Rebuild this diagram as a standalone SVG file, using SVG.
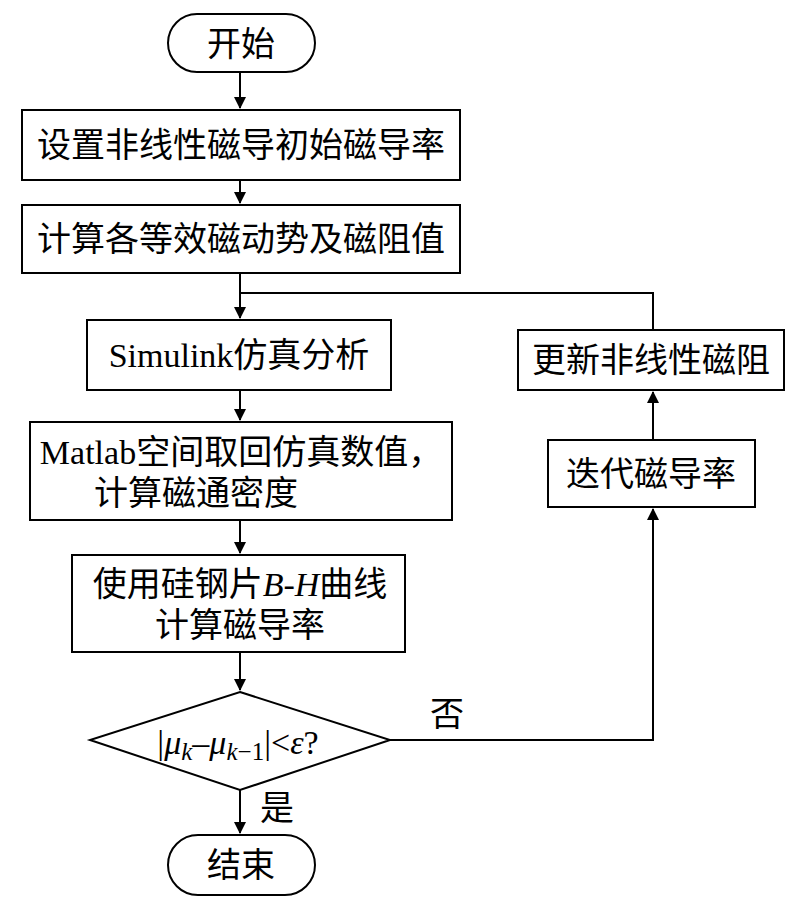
<svg xmlns="http://www.w3.org/2000/svg" width="785" height="902" viewBox="0 0 785 902">
<style>
.b{fill:#fff;stroke:#000;stroke-width:2}
.t{font-family:"Liberation Serif","Noto Sans CJK SC",serif;font-size:34px;text-anchor:middle;fill:#000}
.l{fill:none;stroke:#000;stroke-width:2}
</style>
<defs><marker id="a" markerWidth="12" markerHeight="14" refX="11" refY="7" orient="auto" markerUnits="userSpaceOnUse"><path d="M0,1 L12,7 L0,13 Z" fill="#000"/></marker></defs>
<rect width="785" height="902" fill="#fff"/>
<g id="connectors">
<path class="l" d="M240,72 V108" marker-end="url(#a)"/>
<path class="l" d="M240,180 V203" marker-end="url(#a)"/>
<path class="l" d="M240,273 V318" marker-end="url(#a)"/>
<path class="l" d="M240,293 H653 V330"/>
<path class="l" d="M240,390 V420" marker-end="url(#a)"/>
<path class="l" d="M240,520 V553" marker-end="url(#a)"/>
<path class="l" d="M240,652 V690" marker-end="url(#a)"/>
<path class="l" d="M240,790 V833" marker-end="url(#a)"/>
<path class="l" d="M390,740 H653 V509" marker-end="url(#a)"/>
<path class="l" d="M653,440 V392" marker-end="url(#a)"/>
<text class="t" x="447" y="726">否</text>
<text class="t" x="277" y="820">是</text>
</g>
<g id="start"><rect class="b" x="168" y="14" width="147" height="58" rx="29"/><text class="t" x="241" y="56">开始</text></g>
<g id="n1"><rect class="b" x="22" y="110" width="438" height="70"/><text class="t" x="241" y="157">设置非线性磁导初始磁导率</text></g>
<g id="n2"><rect class="b" x="22" y="205" width="438" height="68"/><text class="t" x="241" y="251">计算各等效磁动势及磁阻值</text></g>
<g id="n3"><rect class="b" x="87" y="320" width="304" height="70"/><text class="t" x="239" y="367">Simulink仿真分析</text></g>
<g id="n4"><rect class="b" x="30" y="422" width="422" height="98"/><text class="t" x="241" y="464">Matlab空间取回仿真数值，</text><text class="t" x="196" y="505">计算磁通密度</text></g>
<g id="n5"><rect class="b" x="72" y="555" width="333" height="97"/><text class="t" x="240" y="596">使用硅钢片<tspan font-style="italic">B</tspan>-<tspan font-style="italic">H</tspan>曲线</text><text class="t" x="240" y="637">计算磁导率</text></g>
<g id="d"><polygon class="b" points="240,692 390,740 240,790 90,740"/><text class="t" x="238" y="754">|<tspan font-style="italic">μ</tspan><tspan font-style="italic" font-size="25" dy="6">k</tspan><tspan dy="-6">–</tspan><tspan font-style="italic">μ</tspan><tspan font-size="25" dy="6"><tspan font-style="italic">k</tspan>−1</tspan><tspan dy="-6">|&lt;</tspan><tspan font-style="italic">ε</tspan>?</text></g>
<g id="end"><rect class="b" x="168" y="835" width="147" height="60" rx="30"/><text class="t" x="241" y="877">结束</text></g>
<g id="r1"><rect class="b" x="518" y="330" width="266" height="60"/><text class="t" x="651" y="372">更新非线性磁阻</text></g>
<g id="r2"><rect class="b" x="548" y="440" width="207" height="67"/><text class="t" x="651" y="486">迭代磁导率</text></g>
</svg>
